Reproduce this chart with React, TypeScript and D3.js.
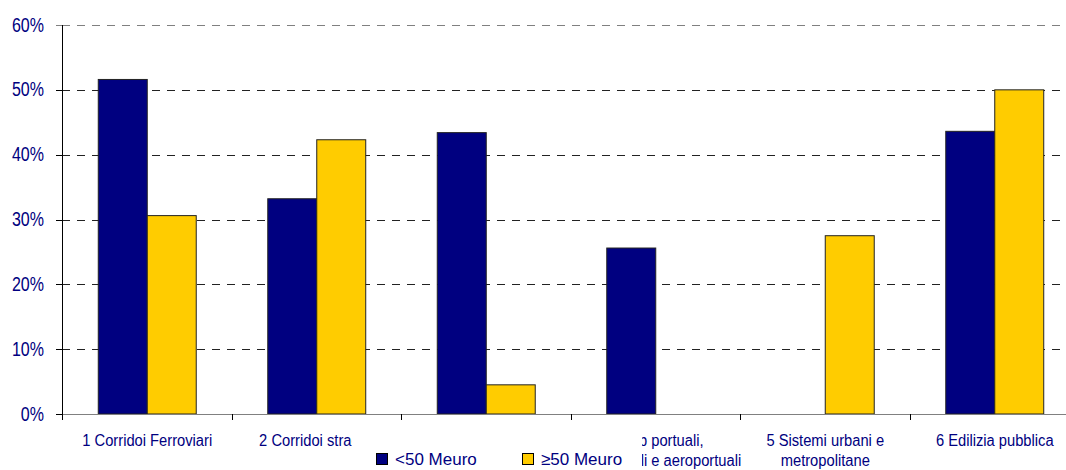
import React from "react";
import * as d3 from "d3";

const categories = [
  ["1 Corridoi Ferroviari"],
  ["2 Corridoi stradali"],
  ["3 Schemi idrici"],
  ["4 Hub portuali,", "interportuali e aeroportuali"],
  ["5 Sistemi urbani e", "metropolitane"],
  ["6 Edilizia pubblica"],
];
const seriesNames = ["<50 Meuro", "≥50 Meuro"];
const under50 = [51.6, 33.2, 43.4, 25.6, 0, 43.6];
const over50 = [30.6, 42.3, 4.5, 0, 27.5, 50.0];
const yTicks = [0, 10, 20, 30, 40, 50, 60];
const colors = ["#000080", "#FFCC00"];

const W = 1066;
const H = 470;
const left = 62;
const top = 25;
const bottom = 414;
const step = 169.5;

export default function App() {
  const keys = categories.map((_, i) => String(i));
  const x0 = d3
    .scaleBand<string>()
    .domain(keys)
    .range([left + 0.5, left + 0.5 + step * categories.length])
    .paddingInner(0.422)
    .paddingOuter(0.211);
  const x1 = d3
    .scaleBand<string>()
    .domain(["0", "1"])
    .range([0, x0.bandwidth()]);
  const y = d3.scaleLinear().domain([0, 60]).range([bottom, top]);
  const series = [under50, over50];
  const textColor = "#000080";

  return (
    <svg
      width={W}
      height={H}
      style={{ position: "absolute", left: 0, top: 0, background: "#fff" }}
      fontFamily="Liberation Sans, Arial, sans-serif"
    >
      <rect x={0} y={0} width={W} height={H} fill="#fff" />
      {/* gridlines */}
      {yTicks.slice(1).map((t) => (
        <line
          key={"g" + t}
          x1={left}
          x2={W}
          y1={Math.round(y(t)) + 0.5}
          y2={Math.round(y(t)) + 0.5}
          stroke={t === 60 ? "#808080" : "#222"}
          strokeDasharray="8,7"
        />
      ))}
      {/* bars */}
      {keys.map((k, i) =>
        series.map((s, j) =>
          s[i] > 0 ? (
            <rect
              key={"b" + i + "-" + j}
              x={(x0(k) as number) + (x1(String(j)) as number)}
              y={y(s[i])}
              width={x1.bandwidth()}
              height={bottom - y(s[i])}
              fill={colors[j]}
              stroke="#222"
              strokeWidth={1}
            />
          ) : null
        )
      )}
      {/* y axis */}
      <line x1={left + 0.5} x2={left + 0.5} y1={top} y2={bottom} stroke="#000" />
      {yTicks.map((t) => (
        <g key={"yt" + t}>
          <line
            x1={left - 6}
            x2={left}
            y1={Math.round(y(t)) + 0.5}
            y2={Math.round(y(t)) + 0.5}
            stroke={t === 60 ? "#808080" : "#000"}
          />
          <text
            transform={`translate(44,${y(t) + 6.5}) scale(0.8,1)`}
            textAnchor="end"
            fontSize={20}
            fill={textColor}
          >
            {t + "%"}
          </text>
        </g>
      ))}
      {/* x axis */}
      <line x1={left} x2={W} y1={bottom + 0.5} y2={bottom + 0.5} stroke="#808080" />
      {d3.range(categories.length + 1).map((i) => (
        <line
          key={"xt" + i}
          x1={Math.round(left + step * i) + 0.5}
          x2={Math.round(left + step * i) + 0.5}
          y1={bottom}
          y2={bottom + 6}
          stroke="#000"
        />
      ))}
      {categories.map((lines, i) => {
        const cx = (x0(keys[i]) as number) + x0.bandwidth() / 2;
        return lines.map((ln, li) => (
          <text
            key={"cl" + i + "-" + li}
            transform={`translate(${cx},${446 + li * 20}) scale(0.92,1)`}
            textAnchor="middle"
            fontSize={16}
            fill={textColor}
          >
            {ln}
          </text>
        ));
      })}
      {/* legend */}
      <rect x={352} y={429} width={290} height={41} fill="#fff" />
      {seriesNames.map((n, j) => (
        <g key={"lg" + j} transform={`translate(${j === 0 ? 376 : 522},453)`}>
          <rect x={0.5} y={0.5} width={11} height={11} fill={colors[j]} stroke="#000" />
          <text x={19} y={12} fontSize={17} fill={textColor}>
            {n}
          </text>
        </g>
      ))}
    </svg>
  );
}
